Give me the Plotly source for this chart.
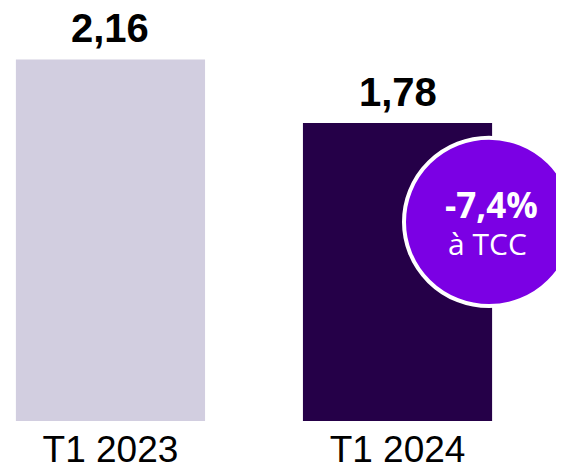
import plotly.graph_objects as go

# Données
categories = ["T1 2023", "T1 2024"]
values = [2.16, 1.78]
bar_colors = ["#D2CEE0", "#250048"]
badge_main = "-7,4%"
badge_sub = "à TCC"

# la page ajoute une marge de 8 px autour de la figure
W, H = 556, 462
PLOT_H = 417  # hauteur de la zone de tracé (px)

fig = go.Figure()

fig.add_trace(go.Bar(
    x=categories,
    y=values,
    marker=dict(color=bar_colors, line=dict(width=0)),
    width=0.659,
    hoverinfo="skip",
))

# Valeurs au-dessus des barres
for cat, val in zip(categories, values):
    fig.add_annotation(
        x=cat, y=val,
        text=f"<b>{val:.2f}</b>".replace(".", ","),
        showarrow=False,
        yanchor="bottom",
        yshift=8,
        borderpad=0,
        font=dict(family="Liberation Sans, Arial", size=40, color="#000000"),
    )

# Pastille violette
cx, cy, r = 481, 216, 85
fig.add_shape(
    type="circle",
    xref="paper", yref="paper",
    x0=(cx - r) / W, x1=(cx + r) / W,
    y0=(PLOT_H - (cy + r)) / PLOT_H, y1=(PLOT_H - (cy - r)) / PLOT_H,
    fillcolor="#7B00E4",
    line=dict(color="#FFFFFF", width=4),
    layer="above",
)
fig.add_annotation(
    xref="paper", yref="paper",
    x=483 / W, y=(PLOT_H - 198) / PLOT_H,
    text=f"<b>{badge_main}</b>",
    showarrow=False,
    xanchor="center", yanchor="middle",
    font=dict(family="Open Sans, Noto Sans", size=35, color="#FFFFFF"),
)
fig.add_annotation(
    xref="paper", yref="paper",
    x=479 / W, y=(PLOT_H - 238) / PLOT_H,
    text=badge_sub,
    showarrow=False,
    xanchor="center", yanchor="middle",
    font=dict(family="Open Sans, Noto Sans", size=30, color="#FFFFFF"),
)

fig.update_layout(
    width=W, height=H,
    margin=dict(l=0, r=0, t=0, b=H - PLOT_H),
    paper_bgcolor="#FFFFFF",
    plot_bgcolor="#FFFFFF",
    showlegend=False,
    xaxis=dict(
        range=[-0.357, 1.58],
        showgrid=False, zeroline=False, showline=False,
        ticks="",
        ticklabelstandoff=3,
        tickfont=dict(family="Liberation Sans, Arial", size=37, color="#000000"),
        fixedrange=True,
    ),
    yaxis=dict(
        range=[0, 2.16 * PLOT_H / 365],
        visible=False,
        fixedrange=True,
    ),
)

fig.write_html("out.html", config={"displayModeBar": False})
